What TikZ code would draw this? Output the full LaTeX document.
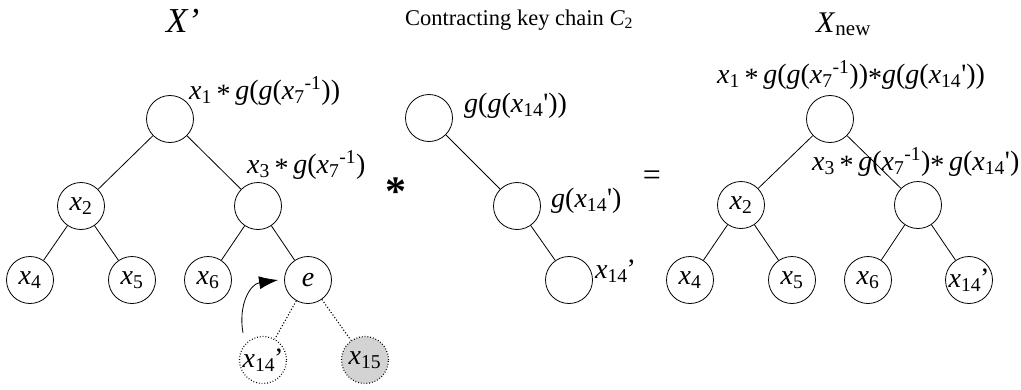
\documentclass[tikz,border=0pt]{standalone}
\usepackage{fontspec}
\setmainfont{Liberation Serif}
\usetikzlibrary{positioning, arrows.meta}
\definecolor{leafgray}{RGB}{211,211,211}
\newcommand{\xv}[1]{\textit{x}\textsubscript{#1}}
\newcommand{\gv}{\textit{g}}
\newcommand{\inv}{\textsuperscript{-1}}
\newcommand{\ap}{\raisebox{-0.35ex}{*}}
\newcommand{\pr}{\textquotesingle}

\begin{document}
\begin{tikzpicture}[
  x=1pt, y=-1pt,
  font=\fontsize{28}{32}\selectfont,
  knot/.style={draw, circle, minimum size=47pt, inner sep=0pt, line width=0.8pt},
  ghost/.style={knot, dotted, line width=1.2pt},
  shaded/.style={knot, dotted, line width=1.2pt, fill=leafgray},
  link/.style={line width=0.8pt},
  dlink/.style={line width=1.1pt, dotted},
  tag/.style={anchor=base west, inner sep=0pt},
  title/.style={anchor=base west, inner sep=0pt},
]
\useasboundingbox (0,0) rectangle (1021,389);

% --- Tree X' ---
\node[title, font=\fontsize{35}{38}\selectfont] (tL) at (166,32) {\textit{X’}};
\node[knot] (L1) at (170,119) {};
\node[knot] (L2) at (81,206) {\xv{2}};
\node[knot] (L3) at (258,206) {};
\node[knot] (L4) at (30,280) {\xv{4}};
\node[knot] (L5) at (132,280) {\xv{5}};
\node[knot] (L6) at (208,280) {\xv{6}};
\node[knot] (Le) at (308,280) {\textit{e}};
\node[ghost] (L14) at (263,360) {\xv{14}\kern-1pt’};
\node[shaded] (L15) at (365,360) {\xv{15}};
\node[tag] (lL1) at (189,99) {\xv{1}\,\ap\,\gv(\gv(\xv{7}\inv))};
\node[tag] (lL3) at (247,173) {\xv{3}\,\ap\,\gv(\xv{7}\inv)};

\draw[link] (L1) -- (L2);
\draw[link] (L1) -- (L3);
\draw[link] (L2) -- (L4);
\draw[link] (L2) -- (L5);
\draw[link] (L3) -- (L6);
\draw[link] (L3) -- (Le);
\draw[dlink] (Le) -- (L14);
\draw[dlink] (Le) -- (L15);

% x14' moves up into the place of e
\coordinate (mvS) at ([xshift=-20pt, yshift=3pt]L14.north);
\coordinate (mvE) at ([xshift=-6pt]Le.west);
\draw[link, -{Latex[length=19pt, width=13pt]}] (mvS) .. controls (238,305) and (250,284) .. (mvE);

% --- Operators ---
\node[font=\fontsize{42}{42}\selectfont\bfseries] (op1) at (396,192) {*};
\node[font=\fontsize{32}{32}\selectfont] (op2) at (652,178) {=};

% --- Key chain C2 ---
\node[title, font=\fontsize{22.5}{26}\selectfont] (tC) at (405,25) {Contracting key chain \textit{C}\textsubscript{2}};
\node[knot] (C1) at (429,118) {};
\node[knot] (C2) at (517,206) {};
\node[knot] (C3) at (569,280) {};
\node[tag] (lC1) at (464,112) {\gv(\gv(\xv{14}\pr))};
\node[tag] (lC2) at (551,207) {\gv(\xv{14}\pr)};
\node[tag] (lC3) at (595,278) {\xv{14}\kern-1pt’};

\draw[link] (C1) -- (C2);
\draw[link] (C2) -- (C3);

% --- Tree X_new ---
\node[title, font=\fontsize{30}{33}\selectfont] (tR) at (816,32) {\textit{X}\textsubscript{new}};
\node[knot] (R1) at (830,119) {};
\node[knot] (R2) at (741,205) {\xv{2}};
\node[knot] (R3) at (918,205) {};
\node[knot] (R4) at (690,280) {\xv{4}};
\node[knot] (R5) at (792,280) {\xv{5}};
\node[knot] (R6) at (868,280) {\xv{6}};
\node[knot] (R14) at (969,280) {\xv{14}\kern-1pt’};
\node[tag] (lR1) at (717,83) {\xv{1}\,\ap\,\gv(\gv(\xv{7}\inv))\ap\gv(\gv(\xv{14}\pr))};
\node[tag] (lR3) at (812,170) {\xv{3}\,\ap\,\gv(\xv{7}\inv)\ap\,\gv(\xv{14}\pr)};

\draw[link] (R1) -- (R2);
\draw[link] (R1) -- (R3);
\draw[link] (R2) -- (R4);
\draw[link] (R2) -- (R5);
\draw[link] (R3) -- (R6);
\draw[link] (R3) -- (R14);

\end{tikzpicture}
\end{document}
